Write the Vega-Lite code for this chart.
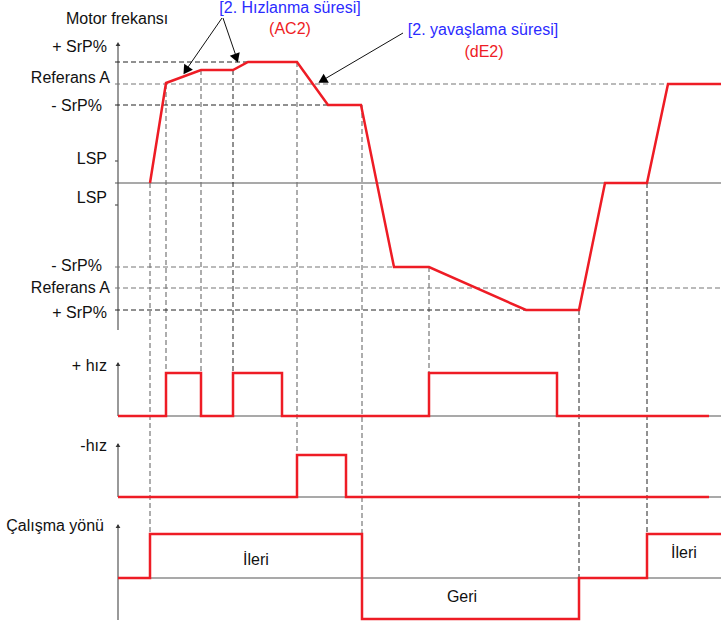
{
  "$schema": "https://vega.github.io/schema/vega-lite/v6.json",
  "width": 721,
  "height": 624,
  "autosize": {"type": "none"},
  "padding": 0,
  "background": "white",
  "config": {"view": {"stroke": null}, "text": {"font": "Liberation Sans", "fontSize": 16, "baseline": "middle"}},
  "datasets": {
    "signals": [
      {"s": "freq", "i": 1, "x": 150, "y": 183}, {"s": "freq", "i": 2, "x": 166, "y": 83}, {"s": "freq", "i": 3, "x": 201, "y": 70}, {"s": "freq", "i": 4, "x": 233, "y": 70}, {"s": "freq", "i": 5, "x": 248, "y": 62}, {"s": "freq", "i": 6, "x": 297, "y": 62}, {"s": "freq", "i": 7, "x": 328, "y": 105}, {"s": "freq", "i": 8, "x": 361, "y": 105}, {"s": "freq", "i": 9, "x": 394, "y": 267}, {"s": "freq", "i": 10, "x": 429, "y": 267}, {"s": "freq", "i": 11, "x": 526, "y": 310}, {"s": "freq", "i": 12, "x": 579, "y": 310}, {"s": "freq", "i": 13, "x": 605, "y": 183}, {"s": "freq", "i": 14, "x": 647, "y": 183}, {"s": "freq", "i": 15, "x": 668, "y": 84}, {"s": "freq", "i": 16, "x": 722, "y": 84},
      {"s": "plus", "i": 1, "x": 118, "y": 416}, {"s": "plus", "i": 2, "x": 166, "y": 416}, {"s": "plus", "i": 3, "x": 166, "y": 373}, {"s": "plus", "i": 4, "x": 201, "y": 373}, {"s": "plus", "i": 5, "x": 201, "y": 416}, {"s": "plus", "i": 6, "x": 233, "y": 416}, {"s": "plus", "i": 7, "x": 233, "y": 373}, {"s": "plus", "i": 8, "x": 282, "y": 373}, {"s": "plus", "i": 9, "x": 282, "y": 416}, {"s": "plus", "i": 10, "x": 429, "y": 416}, {"s": "plus", "i": 11, "x": 429, "y": 373}, {"s": "plus", "i": 12, "x": 557, "y": 373}, {"s": "plus", "i": 13, "x": 557, "y": 416}, {"s": "plus", "i": 14, "x": 709, "y": 416},
      {"s": "minus", "i": 1, "x": 118, "y": 497}, {"s": "minus", "i": 2, "x": 297, "y": 497}, {"s": "minus", "i": 3, "x": 297, "y": 455}, {"s": "minus", "i": 4, "x": 346, "y": 455}, {"s": "minus", "i": 5, "x": 346, "y": 497}, {"s": "minus", "i": 6, "x": 709, "y": 497},
      {"s": "dir", "i": 1, "x": 118, "y": 578}, {"s": "dir", "i": 2, "x": 150, "y": 578}, {"s": "dir", "i": 3, "x": 150, "y": 534}, {"s": "dir", "i": 4, "x": 362, "y": 534}, {"s": "dir", "i": 5, "x": 362, "y": 619}, {"s": "dir", "i": 6, "x": 579, "y": 619}, {"s": "dir", "i": 7, "x": 579, "y": 578}, {"s": "dir", "i": 8, "x": 647, "y": 578}, {"s": "dir", "i": 9, "x": 647, "y": 534}, {"s": "dir", "i": 10, "x": 722, "y": 534}
    ],
    "solid": [
      {"x": 118, "x2": 118, "y": 44, "y2": 330},
      {"x": 118, "x2": 118, "y": 363, "y2": 416},
      {"x": 118, "x2": 118, "y": 444, "y2": 497},
      {"x": 118, "x2": 118, "y": 525, "y2": 620},
      {"x": 115, "x2": 722, "y": 183, "y2": 183},
      {"x": 118, "x2": 722, "y": 416, "y2": 416},
      {"x": 118, "x2": 722, "y": 497, "y2": 497},
      {"x": 118, "x2": 722, "y": 578, "y2": 578},
      {"x": 115, "x2": 118, "y": 161, "y2": 161},
      {"x": 115, "x2": 118, "y": 205, "y2": 205}
    ],
    "axisArrows": [
      {"x": 118, "y": 44}, {"x": 118, "y": 364}, {"x": 118, "y": 445}, {"x": 118, "y": 526}
    ],
    "dashGray": [
      {"x": 115, "x2": 722, "y": 84, "y2": 84},
      {"x": 115, "x2": 722, "y": 288, "y2": 288},
      {"x": 115, "x2": 429, "y": 267, "y2": 267},
      {"x": 150, "x2": 150, "y": 183, "y2": 534},
      {"x": 166, "x2": 166, "y": 84, "y2": 373},
      {"x": 201, "x2": 201, "y": 70, "y2": 373},
      {"x": 297, "x2": 297, "y": 62, "y2": 455},
      {"x": 362, "x2": 362, "y": 105, "y2": 534},
      {"x": 429, "x2": 429, "y": 267, "y2": 373}
    ],
    "dashDark": [
      {"x": 115, "x2": 248, "y": 62, "y2": 62},
      {"x": 115, "x2": 361, "y": 105, "y2": 105},
      {"x": 115, "x2": 526, "y": 310, "y2": 310},
      {"x": 233, "x2": 233, "y": 70, "y2": 373},
      {"x": 579, "x2": 579, "y": 310, "y2": 578},
      {"x": 647, "x2": 647, "y": 183, "y2": 534}
    ],
    "pointers": [
      {"x": 222, "x2": 186, "y": 18, "y2": 70},
      {"x": 223, "x2": 236, "y": 18, "y2": 56},
      {"x": 403, "x2": 323, "y": 33, "y2": 80}
    ],
    "heads": [
      {"k": "a", "x": 186, "y": 70.5},
      {"k": "b", "x": 236.3, "y": 58.3},
      {"k": "c", "x": 322.3, "y": 80.5}
    ],
    "rightLabels": [
      {"x": 107, "y": 47, "t": "+ SrP%"},
      {"x": 110, "y": 78, "t": "Referans A"},
      {"x": 102, "y": 106, "t": "- SrP%"},
      {"x": 107, "y": 159, "t": "LSP"},
      {"x": 107, "y": 198, "t": "LSP"},
      {"x": 102, "y": 266, "t": "- SrP%"},
      {"x": 110, "y": 288, "t": "Referans A"},
      {"x": 107, "y": 313, "t": "+ SrP%"},
      {"x": 107, "y": 366, "t": "+ hız"},
      {"x": 107, "y": 446, "t": "-hız"},
      {"x": 104, "y": 526, "t": "Çalışma yönü"}
    ],
    "leftLabels": [
      {"x": 66, "y": 19, "t": "Motor frekansı"}
    ],
    "centerLabels": [
      {"x": 256, "y": 560, "t": "İleri"},
      {"x": 462, "y": 597, "t": "Geri"},
      {"x": 684, "y": 553, "t": "İleri"}
    ],
    "blueLabels": [
      {"x": 290, "y": 8, "t": "[2. Hızlanma süresi]"},
      {"x": 483, "y": 30, "t": "[2. yavaşlama süresi]"}
    ],
    "redLabels": [
      {"x": 290, "y": 29, "t": "(AC2)"},
      {"x": 484, "y": 52, "t": "(dE2)"}
    ]
  },
  "layer": [
    {
      "data": {"name": "solid"},
      "mark": {"type": "rule", "color": "#555555", "strokeWidth": 1.2},
      "encoding": {
        "x": {"field": "x", "type": "quantitative", "scale": {"domain": [0, 721], "nice": false, "zero": false}, "axis": null},
        "x2": {"field": "x2"},
        "y": {"field": "y", "type": "quantitative", "scale": {"domain": [0, 624], "nice": false, "zero": false, "reverse": true}, "axis": null},
        "y2": {"field": "y2"}
      }
    },
    {
      "data": {"name": "dashGray"},
      "mark": {"type": "rule", "color": "#777777", "strokeWidth": 1.2, "strokeDash": [5, 3]},
      "encoding": {
        "x": {"field": "x", "type": "quantitative"}, "x2": {"field": "x2"},
        "y": {"field": "y", "type": "quantitative"}, "y2": {"field": "y2"}
      }
    },
    {
      "data": {"name": "dashDark"},
      "mark": {"type": "rule", "color": "#222222", "strokeWidth": 1, "strokeDash": [5, 3]},
      "encoding": {
        "x": {"field": "x", "type": "quantitative"}, "x2": {"field": "x2"},
        "y": {"field": "y", "type": "quantitative"}, "y2": {"field": "y2"}
      }
    },
    {
      "data": {"name": "axisArrows"},
      "mark": {"type": "point", "shape": "triangle-up", "filled": true, "color": "#333333", "size": 22, "opacity": 1},
      "encoding": {
        "x": {"field": "x", "type": "quantitative"},
        "y": {"field": "y", "type": "quantitative"}
      }
    },
    {
      "data": {"name": "signals"},
      "mark": {"type": "line", "color": "#ee1c25", "strokeWidth": 2.5, "strokeJoin": "miter"},
      "encoding": {
        "x": {"field": "x", "type": "quantitative"},
        "y": {"field": "y", "type": "quantitative"},
        "detail": {"field": "s"},
        "order": {"field": "i", "type": "quantitative"}
      }
    },
    {
      "data": {"name": "pointers"},
      "mark": {"type": "rule", "color": "#111111", "strokeWidth": 1},
      "encoding": {
        "x": {"field": "x", "type": "quantitative"}, "x2": {"field": "x2"},
        "y": {"field": "y", "type": "quantitative"}, "y2": {"field": "y2"}
      }
    },
    {
      "data": {"name": "heads"},
      "transform": [{"filter": "datum.k == 'a'"}],
      "mark": {"type": "point", "shape": "triangle-up", "filled": true, "color": "#000000", "size": 110, "opacity": 1, "angle": 214},
      "encoding": {"x": {"field": "x", "type": "quantitative"}, "y": {"field": "y", "type": "quantitative"}}
    },
    {
      "data": {"name": "heads"},
      "transform": [{"filter": "datum.k == 'b'"}],
      "mark": {"type": "point", "shape": "triangle-up", "filled": true, "color": "#000000", "size": 110, "opacity": 1, "angle": 160},
      "encoding": {"x": {"field": "x", "type": "quantitative"}, "y": {"field": "y", "type": "quantitative"}}
    },
    {
      "data": {"name": "heads"},
      "transform": [{"filter": "datum.k == 'c'"}],
      "mark": {"type": "point", "shape": "triangle-up", "filled": true, "color": "#000000", "size": 110, "opacity": 1, "angle": 240},
      "encoding": {"x": {"field": "x", "type": "quantitative"}, "y": {"field": "y", "type": "quantitative"}}
    },
    {
      "data": {"name": "rightLabels"},
      "mark": {"type": "text", "align": "right", "color": "#111111"},
      "encoding": {"x": {"field": "x", "type": "quantitative"}, "y": {"field": "y", "type": "quantitative"}, "text": {"field": "t"}}
    },
    {
      "data": {"name": "leftLabels"},
      "mark": {"type": "text", "align": "left", "color": "#111111"},
      "encoding": {"x": {"field": "x", "type": "quantitative"}, "y": {"field": "y", "type": "quantitative"}, "text": {"field": "t"}}
    },
    {
      "data": {"name": "centerLabels"},
      "mark": {"type": "text", "align": "center", "color": "#111111"},
      "encoding": {"x": {"field": "x", "type": "quantitative"}, "y": {"field": "y", "type": "quantitative"}, "text": {"field": "t"}}
    },
    {
      "data": {"name": "blueLabels"},
      "mark": {"type": "text", "align": "center", "color": "#2b2bff"},
      "encoding": {"x": {"field": "x", "type": "quantitative"}, "y": {"field": "y", "type": "quantitative"}, "text": {"field": "t"}}
    },
    {
      "data": {"name": "redLabels"},
      "mark": {"type": "text", "align": "center", "color": "#ee1c25"},
      "encoding": {"x": {"field": "x", "type": "quantitative"}, "y": {"field": "y", "type": "quantitative"}, "text": {"field": "t"}}
    }
  ]
}
